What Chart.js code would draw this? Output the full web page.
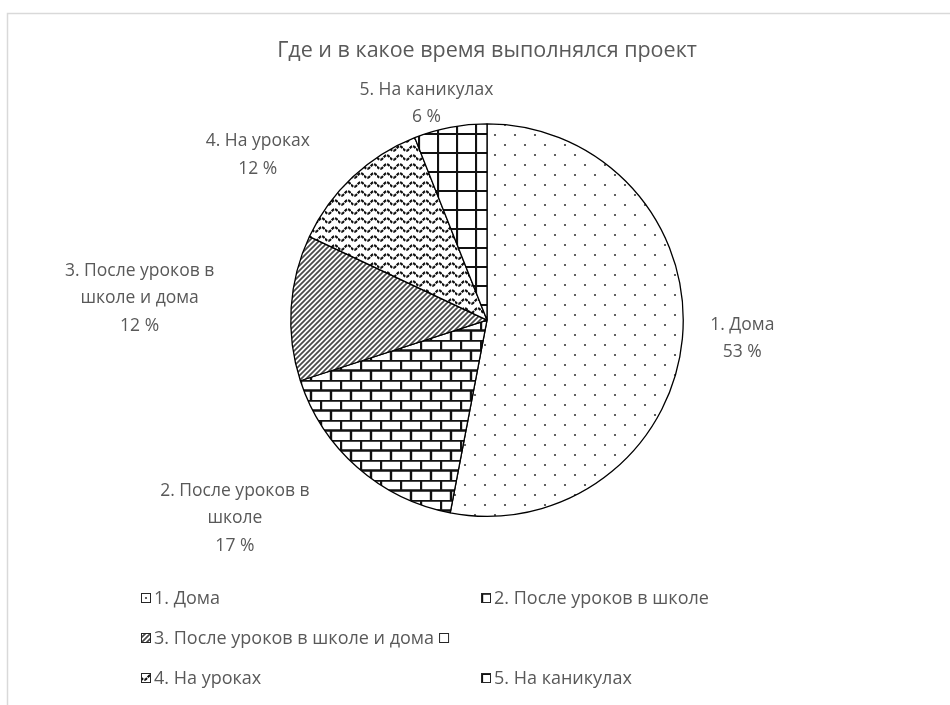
<!DOCTYPE html>
<html lang="ru">
<head>
<meta charset="utf-8">
<title>Где и в какое время выполнялся проект</title>
<script src="https://cdn.jsdelivr.net/npm/chart.js@4.4.1/dist/chart.umd.min.js"></script>
<style>
  html, body { margin: 0; padding: 0; background: #fff; overflow: hidden; }
  canvas { display: block; }
</style>
</head>
<body>
<canvas id="pieChart" width="950" height="705"></canvas>
<script>
// данные диаграммы
var chartTitle = 'Где и в какое время выполнялся проект';
var categories = ['1. Дома', '2. После уроков в школе', '3. После уроков в школе и дома', '', '4. На уроках', '5. На каникулах'];
var shares = [53, 17, 12, 0, 12, 6];
var fillKinds = ['dots', 'bricks', 'stripes', 'none', 'waves', 'grid'];

var textColor = '#595959';
var fontFamily = '"Open Sans", "Noto Sans", sans-serif';

function makeTile(w, h, draw) {
    var c = document.createElement('canvas');
    c.width = w;
    c.height = h;
    var g = c.getContext('2d');
    g.fillStyle = '#fff';
    g.fillRect(0, 0, w, h);
    draw(g, w, h);
    return c;
}

var tiles = {
    dots: makeTile(20, 20, function(g) {
        g.fillStyle = '#3a3a3a';
        [[5, 5], [15, 15]].forEach(function(p) {
            g.beginPath();
            g.arc(p[0], p[1], 1.1, 0, Math.PI * 2);
            g.fill();
        });
    }),
    bricks: makeTile(20, 20, function(g) {
        g.strokeStyle = '#111';
        g.lineWidth = 2.4;
        g.beginPath();
        g.moveTo(0, 0.5); g.lineTo(20, 0.5);
        g.moveTo(0, 10.5); g.lineTo(20, 10.5);
        g.moveTo(1, 0); g.lineTo(1, 10.5);
        g.moveTo(11, 10.5); g.lineTo(11, 20);
        g.stroke();
    }),
    stripes: makeTile(5, 5, function(g) {
        g.strokeStyle = '#4a4a4a';
        g.lineWidth = 1.7;
        g.beginPath();
        g.moveTo(-1, 6); g.lineTo(6, -1);
        g.moveTo(-1, 1); g.lineTo(1, -1);
        g.moveTo(4, 6); g.lineTo(6, 4);
        g.stroke();
    }),
    waves: makeTile(13, 9, function(g) {
        g.strokeStyle = '#111';
        g.lineWidth = 2.2;
        g.setLineDash([3.2, 1]);
        g.beginPath();
        for (var x = 0; x <= 13; x += 0.5) {
            var y = 4.5 + 2.3 * Math.sin(2 * Math.PI * x / 13);
            if (x === 0) g.moveTo(x, y); else g.lineTo(x, y);
        }
        g.stroke();
    }),
    grid: makeTile(19, 19, function(g) {
        g.strokeStyle = '#111';
        g.lineWidth = 2.2;
        g.beginPath();
        g.moveTo(1, 0); g.lineTo(1, 19);
        g.moveTo(0, 1); g.lineTo(19, 1);
        g.stroke();
    })
};

var canvas = document.getElementById('pieChart');
var ctx = canvas.getContext('2d');

var fills = fillKinds.map(function(k) {
    return tiles[k] ? ctx.createPattern(tiles[k], 'repeat') : '#ffffff';
});

function wrapText(c, text, maxWidth) {
    var words = text.split(' ');
    var lines = [];
    var line = '';
    words.forEach(function(w) {
        var test = line ? line + ' ' + w : w;
        if (line && c.measureText(test).width > maxWidth) {
            lines.push(line);
            line = w;
        } else {
            line = test;
        }
    });
    if (line) lines.push(line);
    return lines;
}

// рамка области диаграммы
var framePlugin = {
    id: 'frame',
    beforeDraw: function(chart) {
        var c = chart.ctx;
        c.save();
        c.strokeStyle = '#d9d9d9';
        c.lineWidth = 1.5;
        c.strokeRect(7.5, 13.5, 1000, 1000);
        c.restore();
    }
};

// подписи данных снаружи секторов
var labelsPlugin = {
    id: 'outerLabels',
    afterDatasetsDraw: function(chart, args, opts) {
        var c = chart.ctx;
        var meta = chart.getDatasetMeta(0);
        var values = chart.data.datasets[0].data;
        c.save();
        c.font = opts.size + 'px ' + fontFamily;
        c.fillStyle = textColor;
        c.textAlign = 'center';
        c.textBaseline = 'middle';
        meta.data.forEach(function(arc, i) {
            if (!values[i]) return;
            var p = arc.getProps(['x', 'y', 'startAngle', 'endAngle', 'outerRadius'], true);
            var mid = (p.startAngle + p.endAngle) / 2;
            var dx = Math.cos(mid), dy = Math.sin(mid);
            var lines = wrapText(c, chart.data.labels[i], opts.wrap);
            lines.push(values[i] + ' %');
            var w = Math.max.apply(null, lines.map(function(l) { return c.measureText(l).width; }));
            var h = lines.length * opts.lineHeight;
            var nudge = opts.nudge[i] || [0, 0];
            var cx = p.x + dx * (p.outerRadius + opts.gap) + dx * w / 2 + nudge[0];
            var cy = p.y + dy * (p.outerRadius + opts.gap) + dy * h / 2 + nudge[1];
            lines.forEach(function(l, k) {
                c.fillText(l, cx, cy - h / 2 + opts.lineHeight * (k + 0.5));
            });
        });
        c.restore();
    }
};

// легенда в две колонки
var gridLegendPlugin = {
    id: 'gridLegend',
    afterDraw: function(chart, args, opts) {
        var c = chart.ctx;
        var ds = chart.data.datasets[0];
        var b = opts.box;
        var prevEnd = 0;
        c.save();
        c.font = opts.size + 'px ' + fontFamily;
        c.textBaseline = 'middle';
        chart.data.labels.forEach(function(label, i) {
            var col = i % 2, row = Math.floor(i / 2);
            var x = opts.columns[col];
            var y = opts.top + row * opts.rowGap;
            // пустой элемент Excel ставит сразу за текстом предыдущего
            if (!label && col === 1) x = prevEnd + 5;
            c.save();
            c.translate(x, y - b / 2);
            c.fillStyle = ds.backgroundColor[i];
            c.fillRect(0, 0, b, b);
            c.strokeStyle = '#262626';
            c.lineWidth = 1;
            c.strokeRect(0.5, 0.5, b - 1, b - 1);
            c.restore();
            c.fillStyle = textColor;
            var tx = x + b + 3;
            c.fillText(label, tx, y + 1);
            prevEnd = tx + c.measureText(label).width;
        });
        c.restore();
    }
};

var pieChart = new Chart(ctx, {
    type: 'pie',
    data: {
        labels: categories,
        datasets: [{
            data: shares,
            backgroundColor: fills,
            borderColor: '#000',
            borderWidth: 1.3
        }]
    },
    options: {
        responsive: false,
        animation: false,
        devicePixelRatio: 1,
        layout: {
            padding: { left: 24, right: 0, top: 0, bottom: 188 }
        },
        plugins: {
            legend: { display: false },
            tooltip: { enabled: false },
            title: {
                display: true,
                text: chartTitle,
                color: textColor,
                font: { family: fontFamily, size: 21.5, weight: 'normal' },
                padding: { top: 38, bottom: 59.4 }
            },
            outerLabels: {
                size: 17.5,
                lineHeight: 27.5,
                wrap: 175,
                gap: 12,
                nudge: {
                    0: [16, -4],
                    1: [-65, 11],
                    2: [-65, -6],
                    4: [-51, 7],
                    5: [-9, 15]
                }
            },
            gridLegend: {
                size: 18,
                columns: [141, 481],
                top: 598,
                rowGap: 40,
                box: 10
            }
        }
    },
    plugins: [framePlugin, labelsPlugin, gridLegendPlugin]
});
</script>
</body>
</html>
